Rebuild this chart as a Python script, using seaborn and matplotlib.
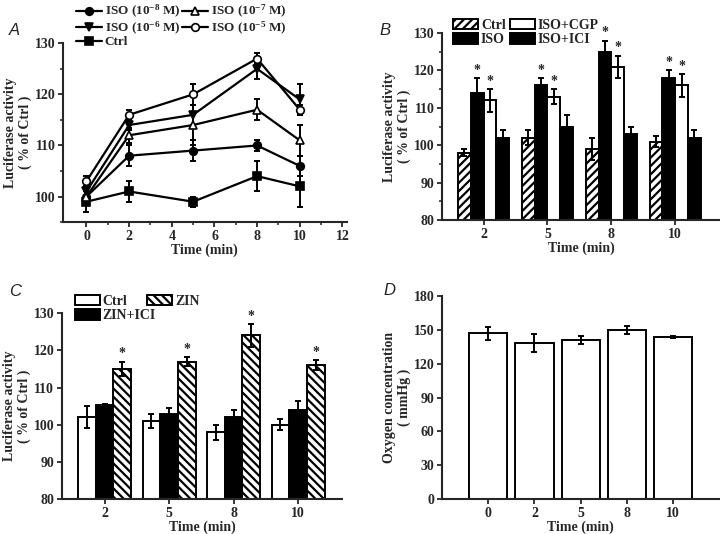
import numpy as np
import pandas as pd
import matplotlib
matplotlib.use("Agg")
import matplotlib.pyplot as plt
import seaborn as sns

# ---- panel A data ----
timeA = [0, 2, 5, 8, 10]
isoA_8 = [100, 108, 109, 110, 106]
isoA_8_err = [1, 2, 2, 1, 2]
isoA_7 = [100, 112, 114, 117, 111]
isoA_7_err = [1, 1.5, 4, 2, 3]
isoA_6 = [101, 114, 116, 125, 119]
isoA_6_err = [1, 1, 2, 2, 3]
isoA_5 = [103, 116, 120, 127, 117]
isoA_5_err = [1, 1, 2, 1, 1]
ctrlA = [99, 101, 99, 104, 102]
ctrlA_err = [2, 2, 1, 3, 4]

# ---- panel B data ----
timeB = ["2", "5", "8", "10"]
ctrlB = [98, 102, 99, 101]
ctrlB_err = [1, 2, 3, 1.5]
isoB = [114, 116, 125, 118]
isoB_err = [4, 2, 3, 2]
cgpB = [112, 113, 121, 116]
cgpB_err = [3, 2, 3, 3]
iciB = [102, 105, 103, 102]
iciB_err = [2, 3, 2, 2]

# ---- panel C data ----
timeC = ["2", "5", "8", "10"]
ctrlC = [102, 101, 98, 100]
ctrlC_err = [3, 2, 2, 1.5]
ziniciC = [105.3, 103, 102, 104]
ziniciC_err = [0.3, 1.5, 2, 2.5]
zinC = [115, 117, 124, 116]
zinC_err = [2, 1.3, 3, 1.3]

# ---- panel D data ----
timeD = ["0", "2", "5", "8", "10"]
oxyD = [147, 138, 141, 150, 144]
oxyD_err = [6, 8, 3.5, 3.5, 1]

sns.set_style("ticks")
plt.rcParams["font.family"] = "Liberation Serif"
plt.rcParams["font.weight"] = "bold"
plt.rcParams["axes.labelweight"] = "bold"
plt.rcParams["mathtext.fontset"] = "custom"
plt.rcParams["mathtext.rm"] = "Liberation Serif:bold"
plt.rcParams["mathtext.it"] = "Liberation Serif:italic:bold"
plt.rcParams["mathtext.bf"] = "Liberation Serif:bold"
plt.rcParams["mathtext.default"] = "rm"
plt.rcParams["hatch.linewidth"] = 1.6
plt.rcParams["axes.linewidth"] = 1.5
plt.rcParams["xtick.major.width"] = 1.3
plt.rcParams["ytick.major.width"] = 1.3
plt.rcParams["xtick.minor.width"] = 1.1
plt.rcParams["ytick.minor.width"] = 1.1
plt.rcParams["xtick.major.size"] = 3.5
plt.rcParams["ytick.major.size"] = 3.5
plt.rcParams["xtick.minor.size"] = 2
plt.rcParams["ytick.minor.size"] = 2
plt.rcParams["xtick.labelsize"] = 10
plt.rcParams["ytick.labelsize"] = 10
plt.rcParams["axes.labelsize"] = 10
plt.rcParams["xtick.major.pad"] = 2.5
plt.rcParams["ytick.major.pad"] = 2

FS = 10

fig = plt.figure(figsize=(7.2, 5.34), dpi=100)
axA = fig.add_axes([0.0875, 0.584, 0.394, 0.335])
axB = fig.add_axes([0.614, 0.588, 0.386, 0.350])
axC = fig.add_axes([0.086, 0.0655, 0.389, 0.348])
axD = fig.add_axes([0.614, 0.0655, 0.385, 0.380])

# ---------- A ----------
seriesA = [
    ("ISO (10$^{-8}$ M)", isoA_8, isoA_8_err, "o", "black"),
    ("ISO (10$^{-6}$ M)", isoA_6, isoA_6_err, "v", "black"),
    ("Ctrl", ctrlA, ctrlA_err, "s", "black"),
    ("ISO (10$^{-7}$ M)", isoA_7, isoA_7_err, "^", "white"),
    ("ISO (10$^{-5}$ M)", isoA_5, isoA_5_err, "o", "white"),
]
for name, vals, errs, mk, fc in seriesA:
    sns.lineplot(x=timeA, y=vals, ax=axA, color="black", lw=1.6, marker=mk,
                 markersize=5.5, markerfacecolor=fc, markeredgecolor="black",
                 markeredgewidth=1.2, label=name, zorder=3)
    axA.errorbar(timeA, vals, yerr=errs, fmt="none", ecolor="black",
                 elinewidth=1.4, capsize=2.5, capthick=1.4, zorder=2)
axA.set_xlim(-1.1, 12.2)
axA.set_ylim(95, 130)
axA.set_xticks(range(0, 13, 2))
axA.set_xticks(range(1, 13, 2), minor=True)
axA.set_yticks([100, 110, 120, 130])
axA.set_yticks([95, 105, 115, 125], minor=True)
axA.set_xlabel("Time (min)", labelpad=0)
axA.set_ylabel("Luciferase activity\n( % of Ctrl )", labelpad=2, linespacing=1.1)
axA.legend(loc="upper left", bbox_to_anchor=(0.105, 0.994),
           bbox_transform=fig.transFigure, ncol=2, frameon=False,
           fontsize=9.5, handlelength=2.0, handletextpad=0.2, columnspacing=0.1,
           labelspacing=-0.05, borderaxespad=0, borderpad=0)
sns.despine(ax=axA)


def grouped(ax, cats, names, vals, errs, colors, hatches, width, star_names):
    df = pd.DataFrame({
        "time": np.repeat([cats], len(names), axis=0).ravel(),
        "group": np.repeat(names, len(cats)),
        "value": np.concatenate(vals),
    })
    sns.barplot(data=df, x="time", y="value", hue="group", order=cats,
                hue_order=names, palette=colors, width=width, ax=ax,
                edgecolor="black", linewidth=1.4, errorbar=None, saturation=1,
                zorder=2)
    for cont, name, err, h in zip(ax.containers, names, errs, hatches):
        for bar, e in zip(cont, err):
            bar.set_hatch(h)
            cx = bar.get_x() + bar.get_width() / 2
            top = bar.get_height()
            ax.errorbar(cx, top, yerr=e, fmt="none", ecolor="black",
                        elinewidth=1.4, capsize=2.5, capthick=1.4, zorder=3)
            if name in star_names:
                ax.text(cx, top + e + 0.3, "*", ha="center", va="bottom",
                        fontsize=10)
    return df


def bar_legend(ax, hatches, anchor, colsp):
    leg = ax.legend(loc="lower left", bbox_to_anchor=anchor, ncol=2,
                    frameon=False, fontsize=FS, handlelength=1.8,
                    handleheight=0.8, handletextpad=0.2, columnspacing=colsp,
                    labelspacing=0.1, borderaxespad=0, borderpad=0)
    for p, h in zip(leg.get_patches(), hatches):
        p.set_hatch(h)
        p.set_edgecolor("black")
        p.set_linewidth(1.4)
    return leg


# ---------- B ----------
namesB = ["Ctrl", "ISO", "ISO+CGP", "ISO+ICI"]
hatchB = ["////", "", "", ""]
grouped(axB, timeB, namesB, [ctrlB, isoB, cgpB, iciB],
        [ctrlB_err, isoB_err, cgpB_err, iciB_err],
        ["white", "black", "white", "black"], hatchB, 0.8,
        ["ISO", "ISO+CGP"])
axB.set_xlim(-0.65, 3.7)
axB.set_ylim(80, 130)
axB.set_yticks([80, 90, 100, 110, 120, 130])
axB.set_yticks([85, 95, 105, 115, 125], minor=True)
axB.set_xlabel("Time (min)", labelpad=0)
axB.set_ylabel("Luciferase activity\n( % of Ctrl )", labelpad=2, linespacing=1.1)
bar_legend(axB, hatchB, (0.04, 0.93), 0.3)
sns.despine(ax=axB)

# ---------- C ----------
namesC = ["Ctrl", "ZIN+ICI", "ZIN"]
hatchC = ["", "", "\\\\\\\\"]
grouped(axC, timeC, namesC, [ctrlC, ziniciC, zinC],
        [ctrlC_err, ziniciC_err, zinC_err],
        ["white", "black", "white"], hatchC, 0.82, ["ZIN"])
axC.set_xlim(-0.66, 3.68)
axC.set_ylim(80, 130)
axC.set_yticks([80, 90, 100, 110, 120, 130])
axC.set_xlabel("Time (min)", labelpad=0)
axC.set_ylabel("Luciferase activity\n( % of Ctrl )", labelpad=2, linespacing=1.1)
bar_legend(axC, hatchC, (0.045, 0.95), -0.6)
sns.despine(ax=axC)

# ---------- D ----------
sns.barplot(x=timeD, y=oxyD, ax=axD, color="white", edgecolor="black",
            linewidth=1.4, width=0.83, errorbar=None, saturation=1, zorder=2)
for bar, e in zip(axD.containers[0], oxyD_err):
    cx = bar.get_x() + bar.get_width() / 2
    axD.errorbar(cx, bar.get_height(), yerr=e, fmt="none", ecolor="black",
                 elinewidth=1.4, capsize=2.5, capthick=1.4, zorder=3)
axD.set_xlim(-1.0, 5.0)
axD.set_ylim(0, 180)
axD.set_yticks(range(0, 181, 30))
axD.set_xlabel("Time (min)", labelpad=0)
axD.set_ylabel("Oxygen concentration\n( mmHg )", labelpad=2, linespacing=1.1)
sns.despine(ax=axD)

for ax in (axA, axB, axC, axD):
    for lab in ax.get_xticklabels() + ax.get_yticklabels():
        lab.set_fontweight("bold")

for txt, x, y in [("A", 0.012, 0.935), ("B", 0.527, 0.935),
                  ("C", 0.012, 0.445), ("D", 0.532, 0.447)]:
    fig.text(x, y, txt, fontsize=12, style="italic", fontweight="normal",
             family="Liberation Sans")

fig.savefig("out.png", dpi=100)
